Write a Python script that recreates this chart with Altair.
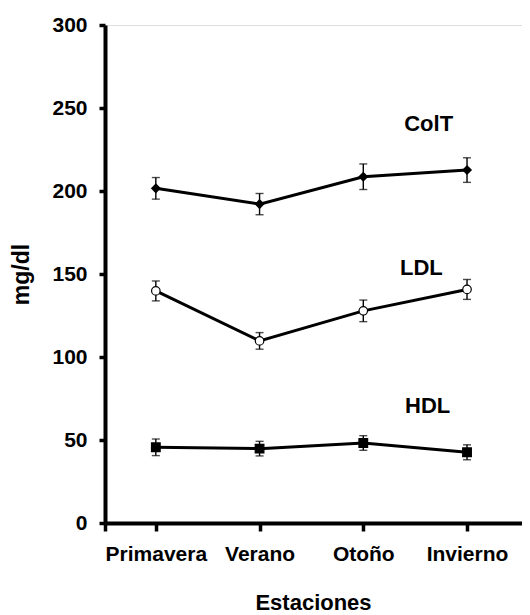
import json
import altair as alt
import pandas as pd

seasons = ["Primavera", "Verano", "Otoño", "Invierno"]
series = ["ColT", "LDL", "HDL"]
colt_mean = [201.6, 192.1, 208.6, 212.6]
colt_err = [6.5, 6.4, 7.7, 7.4]
ldl_mean = [139.8, 109.7, 127.8, 140.7]
ldl_err = [6.0, 5.0, 6.5, 6.0]
hdl_mean = [45.6, 44.8, 48.2, 42.6]
hdl_err = [5.0, 4.4, 4.4, 4.5]

# annotation anchors (data units)
label_x = [3.63, 3.56, 3.62]
label_y = [240.4, 153.6, 70.5]

rows = []
for name, means, errs in [("ColT", colt_mean, colt_err), ("LDL", ldl_mean, ldl_err), ("HDL", hdl_mean, hdl_err)]:
    for i, (m, e) in enumerate(zip(means, errs)):
        rows.append({"serie": name, "idx": i + 1, "estacion": seasons[i], "v": m, "lo": m - e, "hi": m + e})
df = pd.DataFrame(rows)
labels = pd.DataFrame({"serie": series, "x": label_x, "y": label_y})

FONT = "Liberation Sans"
season_arr = json.dumps(seasons, ensure_ascii=False)

x_scale = alt.Scale(domain=[0.51, 4.53], nice=False, zero=False)
y_scale = alt.Scale(domain=[0, 300], nice=False)

x_axis = alt.Axis(
    values=[0.51, 1, 2, 3, 4],
    labelExpr=f"datum.value >= 1 ? {season_arr}[round(datum.value) - 1] : ''",
    title="Estaciones",
    grid=False,
    domainColor="black", domainWidth=4,
    tickColor="black", tickWidth=3.5, tickSize=8,
    labelFont=FONT, labelFontSize=21, labelFontWeight="bold", labelColor="black",
    labelPadding=12, labelAlign="center",
    titleFont=FONT, titleFontSize=22, titleFontWeight="bold", titleColor="black",
    titleY=86, titleBaseline="alphabetic", titleX=208,
)
y_axis = alt.Axis(
    values=[0, 50, 100, 150, 200, 250, 300],
    title="mg/dl",
    grid=False,
    domainColor="black", domainWidth=4,
    tickColor="black", tickWidth=3.5, tickSize=6,
    labelFont=FONT, labelFontSize=21, labelFontWeight="bold", labelColor="black",
    labelPadding=12,
    titleFont=FONT, titleFontSize=23, titleFontWeight="bold", titleColor="black",
    titleAngle=270, titleX=-84, titleY=249, titleAlign="center", titleBaseline="middle",
)

base = alt.Chart(df)

lines = base.mark_line(color="black", strokeWidth=3).encode(
    x=alt.X("idx:Q", scale=x_scale, axis=x_axis),
    y=alt.Y("v:Q", scale=y_scale, axis=y_axis),
    detail="serie:N",
)
bars = base.mark_rule(color="black", strokeWidth=1.4).encode(
    x="idx:Q", y="lo:Q", y2="hi:Q"
)
caps_lo = base.mark_tick(color="black", thickness=1.4, size=8, orient="horizontal").encode(
    x="idx:Q", y="lo:Q"
)
caps_hi = base.mark_tick(color="black", thickness=1.4, size=8, orient="horizontal").encode(
    x="idx:Q", y="hi:Q"
)
points = base.mark_point(stroke="black", strokeWidth=1.2, opacity=1).encode(
    x="idx:Q",
    y="v:Q",
    shape=alt.Shape("serie:N", scale=alt.Scale(domain=series, range=["diamond", "circle", "square"]), legend=None),
    fill=alt.Fill("serie:N", scale=alt.Scale(domain=series, range=["black", "white", "black"]), legend=None),
    size=alt.Size("serie:N", scale=alt.Scale(domain=series, range=[70, 75, 60]), legend=None),
)
texts = alt.Chart(labels).mark_text(
    font=FONT, fontSize=22, fontWeight="bold", color="black", align="center", baseline="middle"
).encode(x="x:Q", y="y:Q", text="serie:N")

chart = alt.layer(lines, bars, caps_lo, caps_hi, points, texts).properties(
    width=417, height=498,
    autosize=alt.AutoSizeParams(type="none"),
    padding={"left": 97, "top": 17, "right": 0, "bottom": 90},
).configure_view(stroke=None).configure(background="white")

chart.save("out.html", embed_options={"renderer": "svg", "actions": False})
